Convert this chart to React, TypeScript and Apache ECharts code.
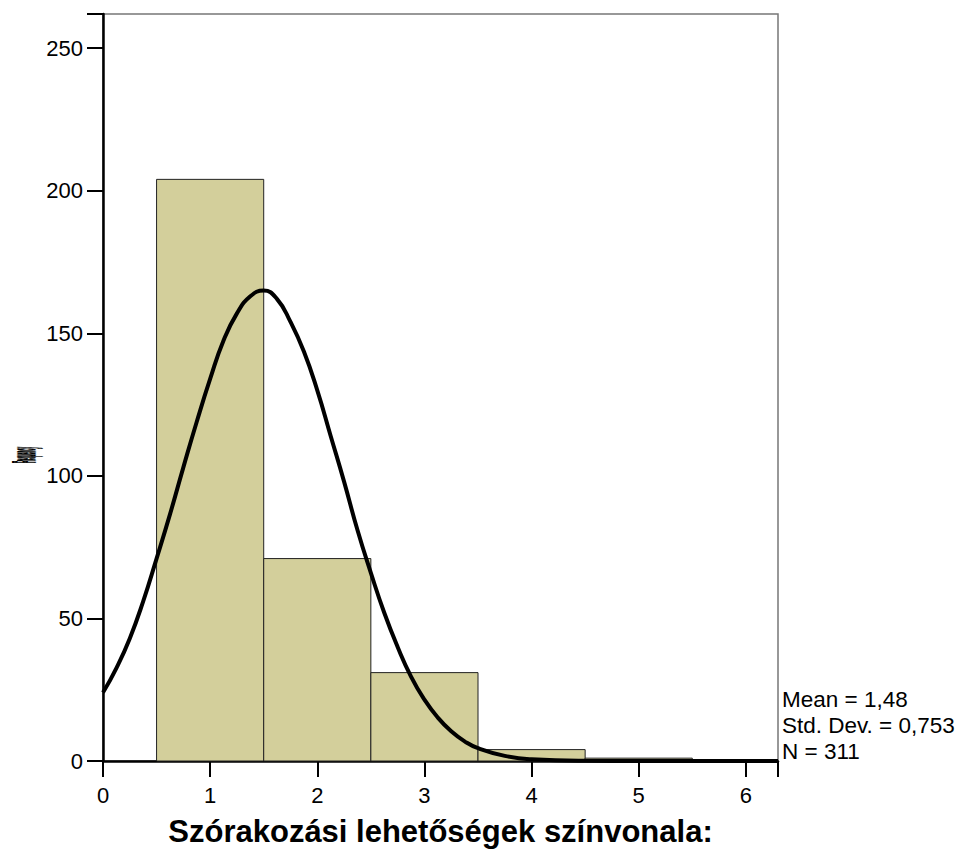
import React, { useEffect, useRef } from "react";
import * as echarts from "echarts";

const binStarts = [0.5, 1.5, 2.5, 3.5, 4.5];
const binEnds = [1.5, 2.5, 3.5, 4.5, 5.5];
const frequencies = [204, 71, 31, 4, 1];

const curveX = [0, 0.125, 0.25, 0.375, 0.5, 0.625, 0.75, 0.875, 1, 1.125, 1.25, 1.375, 1.5, 1.625, 1.75, 1.875, 2, 2.125, 2.25, 2.375, 2.5, 2.625, 2.75, 2.875, 3, 3.125, 3.25, 3.375, 3.5, 3.75, 4, 4.5, 5, 5.5, 6, 6.3];
const curveY = [24, 32.6, 43, 56, 71, 86.5, 103, 119, 134, 147.5, 157, 163, 165, 162, 154, 143.6, 130, 114, 98, 81, 66, 52, 40, 29.6, 21.5, 15.2, 10.4, 6.9, 4.5, 1.8, 0.6, 0.05, 0, 0, 0, 0];

const xTicks = [0, 1, 2, 3, 4, 5, 6];
const yTicks = [0, 50, 100, 150, 200, 250];
const statsLines = ["Mean = 1,48", "Std. Dev. = 0,753", "N = 311"];
const xTitle = "Szórakozási lehetőségek színvonala:";
const yTitle = "Frequency";

export default function App() {
  const ref = useRef<HTMLDivElement>(null);
  useEffect(() => {
    if (!ref.current) return;
    const chart = echarts.init(ref.current, null, { renderer: "svg" });
    const barData = binStarts.map((s, i) => [s, binEnds[i], frequencies[i]]);
    const font = "Liberation Sans, Arial, sans-serif";
    chart.setOption({
      animation: false,
      textStyle: { fontFamily: font },
      grid: {
        left: 103,
        right: 184,
        top: 14,
        bottom: 90,
        show: true,
        borderColor: "#777",
        borderWidth: 1.5,
        backgroundColor: "transparent",
      },
      xAxis: {
        type: "value",
        min: 0,
        max: 6.3,
        interval: 1,
        axisLine: { show: true, onZero: false, lineStyle: { color: "#000", width: 2.5 } },
        axisTick: { show: true, length: 16, lineStyle: { color: "#000", width: 2 } },
        axisLabel: {
          color: "#000",
          fontSize: 22,
          margin: 23,
          formatter: (v: number) => (xTicks.includes(v) ? String(v) : ""),
        },
        splitLine: { show: false },
        name: xTitle,
        nameLocation: "middle",
        nameGap: 55,
        nameTextStyle: { color: "#000", fontSize: 31, fontWeight: "bold" },
      },
      yAxis: {
        type: "value",
        min: 0,
        max: 262,
        interval: 50,
        axisLine: { show: true, onZero: false, lineStyle: { color: "#000", width: 2.5 } },
        axisTick: { show: true, length: 16, lineStyle: { color: "#000", width: 2 } },
        axisLabel: {
          color: "#000",
          fontSize: 22,
          margin: 20,
          formatter: (v: number) => (yTicks.includes(v) ? String(v) : ""),
        },
        splitLine: { show: false },
      },
      series: [
        {
          type: "custom",
          data: barData,
          encode: { x: [0, 1], y: 2 },
          renderItem: (params: any, api: any) => {
            const p0 = api.coord([api.value(0), api.value(2)]);
            const p1 = api.coord([api.value(1), 0]);
            return {
              type: "rect",
              shape: { x: p0[0], y: p0[1], width: p1[0] - p0[0], height: p1[1] - p0[1] },
              style: { fill: "#d3cf9b", stroke: "#222", lineWidth: 1 },
            };
          },
          z: 2,
        },
        {
          type: "line",
          data: curveX.map((x, i) => [x, curveY[i]]),
          smooth: true,
          symbol: "none",
          lineStyle: { color: "#000", width: 4 },
          z: 3,
        },
      ],
      graphic: [
        ...statsLines.map((t, i) => ({
          type: "text",
          left: 782,
          top: 688 + i * 26,
          style: { text: t, fill: "#000", fontSize: 22.5, fontFamily: font },
        })),
        {
          type: "text",
          x: 24,
          y: 455,
          rotation: Math.PI / 2,
          scaleX: 0.1,
          style: {
            text: yTitle,
            fill: "#000",
            stroke: "#000",
            lineWidth: 2,
            fontSize: 32,
            fontWeight: "bold",
            align: "center",
            verticalAlign: "middle",
            fontFamily: font,
          },
        },
      ],
    });
    return () => chart.dispose();
  }, []);
  return <div ref={ref} style={{ width: 962, height: 852, position: "absolute", left: 0, top: 0 }} />;
}
